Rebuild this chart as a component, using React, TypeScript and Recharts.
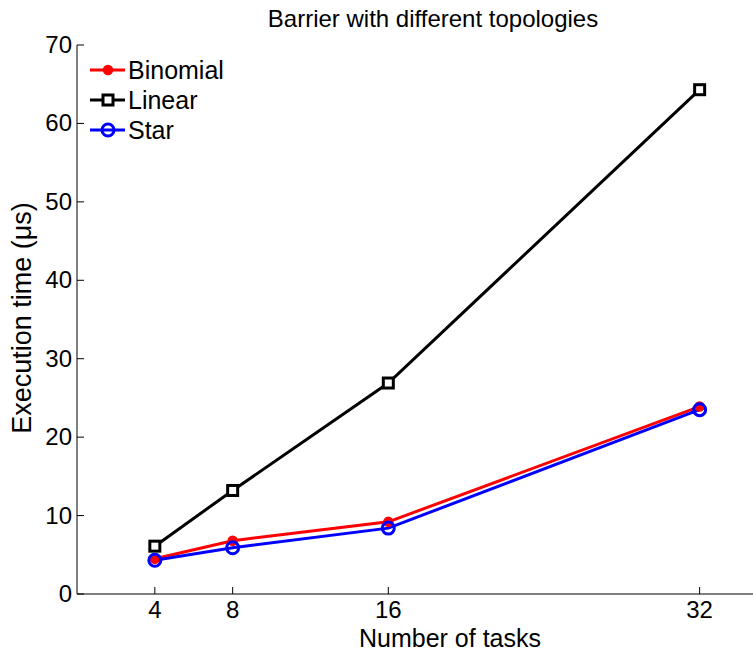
import React from 'react';
import { LineChart, Line, XAxis, YAxis, Customized } from 'recharts';

const tasks = [4, 8, 16, 32];
const binomial = [4.5, 6.8, 9.2, 23.9];
const linear = [6.1, 13.2, 26.9, 64.3];
const star = [4.3, 5.9, 8.4, 23.5];

const xTicks = [4, 8, 16, 32];
const yTicks = [0, 10, 20, 30, 40, 50, 60, 70];

const FONT = '"Liberation Sans", Arial, Helvetica, sans-serif';

const data = tasks.map((n, i) => ({
  n,
  binomial: binomial[i],
  linear: linear[i],
  star: star[i],
}));

// marker shapes, same ones are used in the legend
const Dot = ({ cx, cy }: any) => (
  <circle cx={cx} cy={cy} r={4.5} fill="#ff0000" stroke="#ff0000" strokeWidth={1.5} />
);
const Square = ({ cx, cy }: any) => (
  <rect x={cx - 5} y={cy - 5} width={10} height={10} fill="#fff" stroke="#000" strokeWidth={3} />
);
const Ring = ({ cx, cy }: any) => (
  <circle cx={cx} cy={cy} r={6} fill="none" stroke="#0000ff" strokeWidth={3} />
);

const XTick = ({ x, y, payload }: any) => (
  <g>
    <line x1={x} x2={x} y1={y} y2={y - 7} stroke="#000" strokeWidth={1} />
    <text x={x} y={y + 24} textAnchor="middle" fontSize={24} fontFamily={FONT} fill="#000">
      {payload.value}
    </text>
  </g>
);

const YTick = ({ x, y, payload }: any) => (
  <g>
    <line x1={x} x2={x + 7} y1={y} y2={y} stroke="#000" strokeWidth={1} />
    <text x={x - 5} y={y + 8} textAnchor="end" fontSize={24} fontFamily={FONT} fill="#000">
      {payload.value}
    </text>
  </g>
);

const legendItems = [
  { name: 'Binomial', color: '#ff0000', Marker: Dot },
  { name: 'Linear', color: '#000000', Marker: Square },
  { name: 'Star', color: '#0000ff', Marker: Ring },
];

// title, axis labels and legend drawn on top of the chart
const Labels = () => (
  <g fontFamily={FONT} fill="#000">
    <text x={433} y={27} textAnchor="middle" fontSize={24}>
      Barrier with different topologies
    </text>
    <text x={450} y={646.5} textAnchor="middle" fontSize={25}>
      Number of tasks
    </text>
    <text
      x={31}
      y={318}
      textAnchor="middle"
      fontSize={27}
      transform="rotate(-90 31 318)"
    >
      Execution time (μs)
    </text>
    {legendItems.map((it, i) => {
      const cy = 70 + i * 30;
      const M = it.Marker;
      return (
        <g key={it.name}>
          <line x1={90} x2={125} y1={cy} y2={cy} stroke={it.color} strokeWidth={3} />
          <M cx={108} cy={cy} />
          <text x={128} y={cy + 9} fontSize={25} fontFamily={FONT} fill="#000">
            {it.name}
          </text>
        </g>
      );
    })}
  </g>
);

export default function App() {
  return (
    <div
      style={{
        position: 'absolute',
        left: 0,
        top: 0,
        width: 753,
        height: 652,
        overflow: 'hidden',
        background: '#fff',
      }}
    >
      <LineChart
        width={760}
        height={652}
        data={data}
        margin={{ top: 45, right: 2, bottom: 0, left: 0 }}
      >
        <XAxis
          dataKey="n"
          type="number"
          domain={[0, 35]}
          ticks={xTicks}
          height={58}
          tickSize={0}
          tickMargin={0}
          tickLine={false}
          axisLine={{ stroke: '#000', strokeWidth: 1 }}
          tick={<XTick />}
          allowDataOverflow
        />
        <YAxis
          type="number"
          domain={[0, 70]}
          ticks={yTicks}
          width={77}
          tickSize={0}
          tickMargin={0}
          tickLine={false}
          axisLine={{ stroke: '#000', strokeWidth: 1 }}
          tick={<YTick />}
          interval={0}
        />
        <Line
          dataKey="binomial"
          name="Binomial"
          stroke="#ff0000"
          strokeWidth={3}
          dot={<Dot />}
          activeDot={false}
          isAnimationActive={false}
        />
        <Line
          dataKey="linear"
          name="Linear"
          stroke="#000000"
          strokeWidth={3}
          dot={<Square />}
          activeDot={false}
          isAnimationActive={false}
        />
        <Line
          dataKey="star"
          name="Star"
          stroke="#0000ff"
          strokeWidth={3}
          dot={<Ring />}
          activeDot={false}
          isAnimationActive={false}
        />
        <Customized component={<Labels />} />
      </LineChart>
    </div>
  );
}
